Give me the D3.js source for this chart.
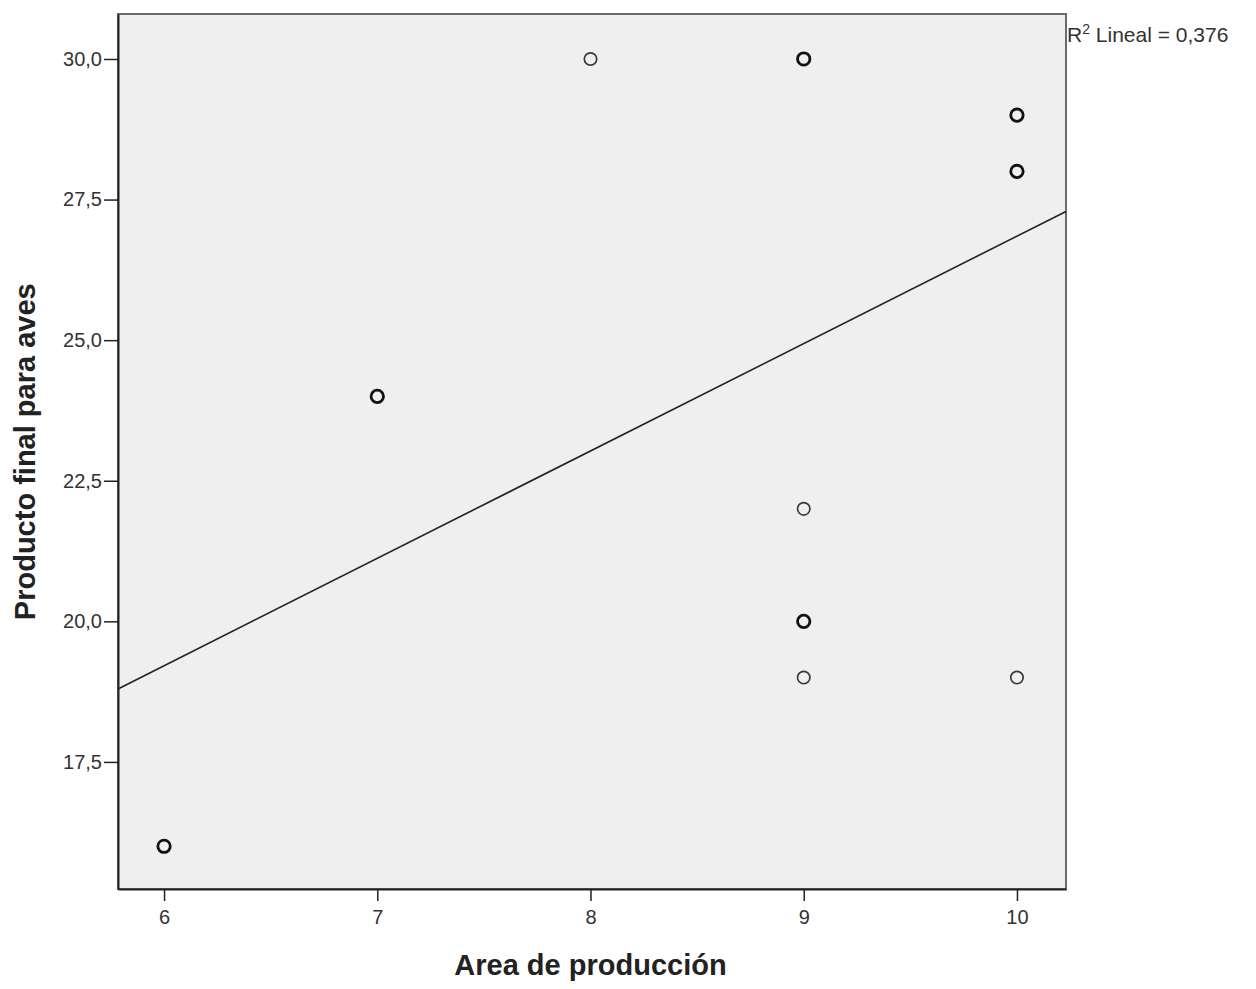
<!DOCTYPE html>
<html>
<head>
<meta charset="utf-8">
<script src="https://cdn.jsdelivr.net/npm/d3@7"></script>
<style>
  body { margin: 0; background: #fff; }
  text { font-family: "Liberation Sans", Arial, sans-serif; }
</style>
</head>
<body>
<svg id="canvas"></svg>
<script>
// data (area, producto, overlapping cases)
var areaValues = [6, 7, 8, 9, 10, 10, 9, 9, 9, 10];
var productoValues = [16, 24, 30, 30, 29, 28, 22, 20, 19, 19];
var caseCounts = [2, 2, 1, 2, 2, 2, 1, 2, 1, 1];
var xTicks = [6, 7, 8, 9, 10];
var yTicks = [17.5, 20, 22.5, 25, 27.5, 30];
var fitLine = [7.75, 1.91]; // intercept, slope
var r2Label = "0,376";

var width = 1256, height = 989;
var margin = {top: 14, right: 190, bottom: 100, left: 118};
var w = width - margin.left - margin.right;
var h = height - margin.top - margin.bottom;

var svg = d3.select("#canvas")
    .attr("width", width)
    .attr("height", height)
  .append("g")
    .attr("transform", "translate(" + margin.left + "," + margin.top + ")");

var x = d3.scaleLinear().domain([5.784, 10.23]).range([0, w]);
var y = d3.scaleLinear().domain([15.24, 30.8]).range([h, 0]);

// plot background + frame
svg.append("rect")
  .attr("width", w).attr("height", h)
  .style("fill", "#efefef")
  .style("stroke", "#6b6b6b")
  .style("stroke-width", 2);

var comma = function(d) { return d3.format(".1f")(d).replace(".", ","); };

// y axis
var yAxis = d3.axisLeft(y).tickValues(yTicks).tickSize(14).tickSizeOuter(0).tickFormat(comma);
var gy = svg.append("g").attr("class", "axis").call(yAxis);
gy.select(".domain").style("stroke", "#222").style("stroke-width", 2);
gy.selectAll("line").style("stroke", "#222").style("stroke-width", 1.5);
gy.selectAll("text").style("font-size", "20px").style("fill", "#333").attr("x", -16);

// x axis
var xAxis = d3.axisBottom(x).tickValues(xTicks).tickSize(12).tickSizeOuter(0).tickFormat(d3.format("d"));
var gx = svg.append("g").attr("class", "axis")
  .attr("transform", "translate(0," + h + ")")
  .call(xAxis);
gx.select(".domain").style("stroke", "#222").style("stroke-width", 2);
gx.selectAll("line").style("stroke", "#222").style("stroke-width", 1.5);
gx.selectAll("text").style("font-size", "20px").style("fill", "#333").attr("y", 21);

// fit line
var x0 = x.domain()[0], x1 = x.domain()[1];
svg.append("line")
  .attr("x1", x(x0)).attr("y1", y(fitLine[0] + fitLine[1] * x0))
  .attr("x2", x(x1)).attr("y2", y(fitLine[0] + fitLine[1] * x1))
  .style("stroke", "#222")
  .style("stroke-width", 1.6);

// points
var pts = areaValues.map(function(a, i) {
  return {area: a, producto: productoValues[i], n: caseCounts[i]};
});
svg.selectAll(".dot")
    .data(pts)
  .enter().append("circle")
    .attr("class", "dot")
    .attr("cx", function(d) { return x(d.area); })
    .attr("cy", function(d) { return y(d.producto); })
    .attr("r", 6.2)
    .style("fill", "none")
    .style("stroke", function(d) { return d.n > 1 ? "#111" : "#3a3a3a"; })
    .style("stroke-width", function(d) { return d.n > 1 ? 2.8 : 1.7; });

// R2 label
var r2 = svg.append("text")
  .attr("x", w + 1).attr("y", 28)
  .style("font-size", "21px").style("fill", "#333");
r2.append("tspan").text("R");
r2.append("tspan").attr("dy", -8).style("font-size", "14px").text("2");
r2.append("tspan").attr("dy", 8).text(" Lineal = " + r2Label);

// axis titles
svg.append("text")
  .attr("x", x(8)).attr("y", h + 86)
  .style("text-anchor", "middle")
  .style("font-size", "29px").style("font-weight", "bold").style("fill", "#222")
  .text("Area de producción");

svg.append("text")
  .attr("transform", "translate(" + (-83) + "," + (y(22.5) - 29) + ") rotate(-90)")
  .style("text-anchor", "middle")
  .style("font-size", "29px").style("font-weight", "bold").style("fill", "#222")
  .text("Producto final para aves");
</script>
</body>
</html>
